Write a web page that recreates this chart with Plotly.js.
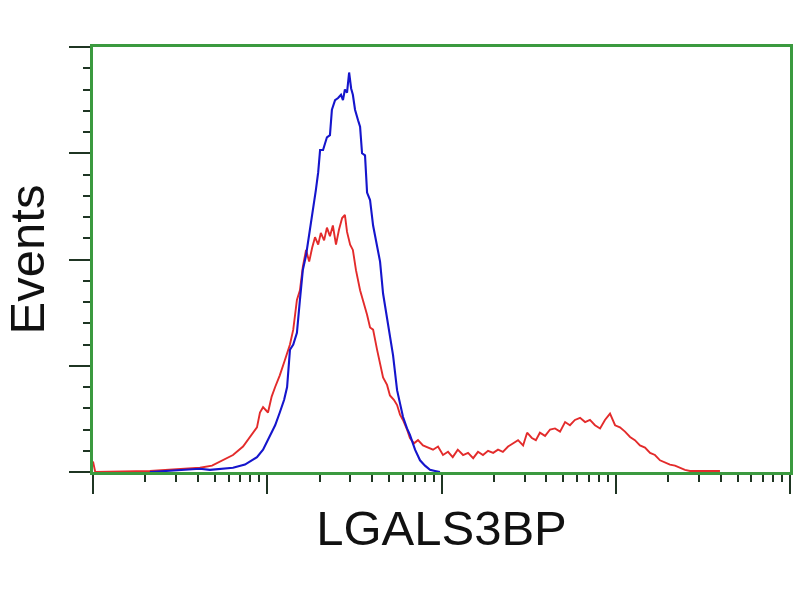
<!DOCTYPE html>
<html>
<head>
<meta charset="utf-8">
<script src="https://cdn.plot.ly/plotly-3.0.1.min.js"></script>
<style>html,body{margin:0;padding:0;background:#fff;}#chart{width:800px;height:600px;}</style>
</head>
<body>
<div id="chart"></div>
<script>
// Fluorescence intensity (log scale) and event counts
const blueX = [2.12, 2.77, 3.60, 4.11, 4.69, 5.36, 6.36, 7.45, 8.73, 9.46, 10.4, 11.1, 11.8, 12.5, 13.0, 13.5, 14.1, 14.8, 15.4, 16.0, 16.7, 17.6, 18.3, 19.0, 19.6, 20.1, 20.9, 22.0, 22.9, 23.5, 24.5, 25.5, 26.5, 27.2, 27.9, 28.7, 29.5, 30.3, 31.0, 31.9, 33.2, 34.1, 35.0, 36.4, 37.4, 38.9, 40.5, 42.7, 44.4, 46.2, 48.7, 50.6, 52.7, 55.6, 57.8, 60.1, 63.4, 65.9, 70.5, 75.3, 80.4, 85.9, 91.8, 98.0];
const blueY = [0, 1, 2, 3, 2, 3, 4, 7, 14, 21, 35, 44, 56, 68, 80, 115, 120, 131, 162, 190, 204, 228, 245, 265, 282, 303, 303, 315, 317, 341, 350, 352, 355, 350, 360, 357, 376, 361, 355, 341, 331, 325, 300, 298, 263, 256, 232, 212, 198, 168, 146, 129, 110, 77, 63, 52, 41, 35, 21, 11, 6, 2, 1, 0];

const redX = [1.0, 1.03, 2.12, 2.59, 3.16, 4.11, 4.82, 5.57, 6.36, 7.26, 7.96, 8.73, 9.08, 9.46, 10.1, 10.6, 11.1, 11.8, 12.6, 13.5, 14.1, 14.8, 15.4, 16.0, 16.7, 17.4, 18.1, 18.8, 19.6, 20.3, 21.2, 22.0, 22.9, 23.8, 24.8, 25.8, 26.9, 27.9, 28.7, 29.9, 31.0, 32.3, 34.1, 35.4, 37.4, 38.9, 40.5, 42.7, 44.4, 46.2, 48.7, 50.6, 53.3, 55.6, 57.8, 60.1, 63.4, 65.9, 69.5, 73.3, 78.3, 83.7, 89.4, 95.5, 102, 109, 116, 124, 133, 142, 152, 162, 173, 185, 198, 211, 225, 241, 257, 275, 294, 310, 330, 348, 367, 393, 420, 448, 479, 512, 546, 583, 624, 667, 711, 760, 813, 867, 927, 991, 1057, 1130, 1208, 1288, 1377, 1472, 1574, 1679, 1795, 1919, 2046, 2188, 2339, 2495, 2667, 3041, 3475, 3963];
const redY = [10, 0, 1, 2, 3, 4, 6, 11, 16, 24, 33, 42, 56, 61, 56, 71, 80, 91, 105, 120, 134, 162, 171, 193, 209, 198, 211, 221, 214, 225, 218, 230, 222, 232, 214, 228, 239, 242, 226, 214, 209, 190, 171, 162, 148, 136, 134, 115, 101, 89, 82, 72, 68, 63, 54, 49, 40, 32, 27, 30, 25, 23, 21, 24, 16, 19, 14, 21, 16, 18, 13, 19, 16, 20, 18, 21, 19, 24, 27, 30, 25, 37, 32, 30, 37, 34, 40, 41, 38, 47, 44, 49, 51, 47, 49, 44, 41, 49, 55, 44, 42, 38, 33, 30, 25, 23, 18, 16, 11, 9, 7, 6, 4, 2, 1, 1, 1, 1];

const xMajor = [1, 10, 100, 1000, 10000];
const xMinor = [2,3,4,5,6,7,8,9,20,30,40,50,60,70,80,90,200,300,400,500,600,700,800,900,2000,3000,4000,5000,6000,7000,8000,9000];
const yRange = [0, 400];

const green = '#3b9a3f';
const tickCol = '#1f3523';

const traces = [
  {x: redX, y: redY, type: 'scatter', mode: 'lines', name: 'Transfected',
   line: {color: '#e32b2b', width: 1.9}, hoverinfo: 'x+y'},
  {x: blueX, y: blueY, type: 'scatter', mode: 'lines', name: 'Control',
   line: {color: '#1515cc', width: 2.1}, hoverinfo: 'x+y'}
];

const layout = {
  width: 800, height: 600,
  margin: {l: 93, r: 10, t: 47, b: 128},
  paper_bgcolor: '#ffffff', plot_bgcolor: '#ffffff',
  showlegend: false,
  font: {family: 'Liberation Sans, Arial, sans-serif', color: '#000'},
  xaxis: {
    type: 'log', range: [0, 4], tickmode: 'array', tickvals: xMajor,
    showticklabels: false, ticks: 'outside', ticklen: 19, tickwidth: 2, tickcolor: tickCol,
    minor: {tickmode: 'array', tickvals: xMinor, ticks: 'outside', ticklen: 7, tickwidth: 2, tickcolor: tickCol, showgrid: false},
    showgrid: false, zeroline: false,
    showline: true, linecolor: green, linewidth: 3, mirror: true,
    title: {text: 'LGALS3BP', font: {size: 49, color: '#111'}, standoff: 18}
  },
  yaxis: {
    range: yRange, tickmode: 'linear', tick0: 0, dtick: 100,
    showticklabels: false, ticks: 'outside', ticklen: 21, tickwidth: 2, tickcolor: tickCol,
    minor: {dtick: 20, ticks: 'outside', ticklen: 7, tickwidth: 2, tickcolor: tickCol, showgrid: false},
    showgrid: false, zeroline: false,
    showline: true, linecolor: green, linewidth: 3, mirror: true,
    title: {text: 'Events', font: {size: 49, color: '#111'}, standoff: 10}
  }
};

Plotly.newPlot('chart', traces, layout, {displayModeBar: false, staticPlot: true});
</script>
</body>
</html>
